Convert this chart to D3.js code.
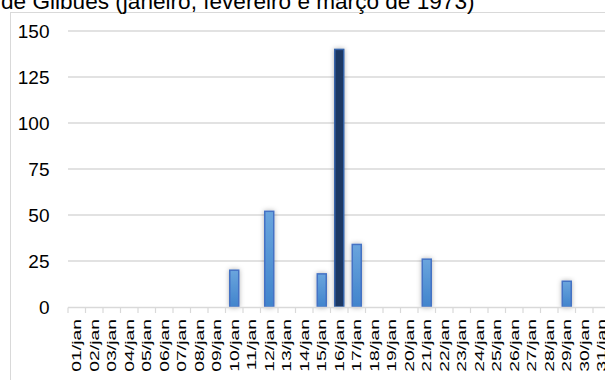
<!DOCTYPE html>
<html>
<head>
<meta charset="utf-8">
<script src="https://cdn.jsdelivr.net/npm/d3@7"></script>
<style>
  body { margin: 0; background: #fff; }
  svg { display: block; font-family: Arial, "Liberation Sans", sans-serif; }
</style>
</head>
<body>
<div id="chart"></div>
<script>
// chart data
var titleText = "de Gilbués (janeiro, fevereiro e março de 1973)";
var days = [];
for (var d = 1; d <= 31; d++) days.push((d < 10 ? "0" + d : "" + d) + "/jan");
var rainDays = ["10/jan", "12/jan", "15/jan", "16/jan", "17/jan", "21/jan", "29/jan"];
var rainValues = [20, 52, 18, 140, 34, 26, 14];
var highlightDay = "16/jan";
var yTicks = [0, 25, 50, 75, 100, 125, 150];

var w = 605, h = 380;
var bandW = 17.5;

var values = days.map(function (day) {
  var i = rainDays.indexOf(day);
  return {day: day, value: i < 0 ? 0 : rainValues[i]};
});

var svg = d3.select("#chart")
  .append("svg")
  .attr("width", w)
  .attr("height", h);

var defs = svg.append("defs");

var grad = defs.append("linearGradient")
  .attr("id", "barGrad")
  .attr("x1", 0).attr("y1", 0).attr("x2", 0).attr("y2", 1);
grad.append("stop").attr("offset", "0%").attr("stop-color", "#6aa5dd");
grad.append("stop").attr("offset", "100%").attr("stop-color", "#4184cc");

var shadow = defs.append("filter")
  .attr("id", "shadow")
  .attr("x", "-100%").attr("y", "-20%")
  .attr("width", "300%").attr("height", "140%");
shadow.append("feDropShadow")
  .attr("dx", 0).attr("dy", 0)
  .attr("stdDeviation", 2.5)
  .attr("flood-color", "#000")
  .attr("flood-opacity", 0.3);

// outer frame (clipped by window on right / bottom)
svg.append("rect")
  .attr("x", 10.5).attr("y", 12.5)
  .attr("width", 700).attr("height", 500)
  .attr("fill", "none")
  .attr("stroke", "#d9d9d9")
  .attr("stroke-width", 1);

// title, cut off at the top like the original
svg.append("text")
  .attr("x", 1)
  .attr("y", 8.5)
  .attr("font-size", 22.6)
  .attr("fill", "#000")
  .text(titleText);

var x = d3.scaleBand()
  .domain(days)
  .range([68, 68 + bandW * days.length])
  .paddingInner(0.43)
  .paddingOuter(0.215);

var y = d3.scaleLinear()
  .domain([0, 150])
  .range([307, 31]);

// gridlines
svg.append("g")
  .selectAll("line")
  .data(yTicks.slice(1))
  .enter().append("line")
  .attr("x1", 68).attr("x2", 620)
  .attr("y1", function (d) { return y(d); })
  .attr("y2", function (d) { return y(d); })
  .attr("stroke", "#d9d9d9")
  .attr("stroke-width", 1.5);

// y labels
svg.append("g")
  .selectAll("text")
  .data(yTicks)
  .enter().append("text")
  .attr("x", 49.5)
  .attr("y", function (d) { return y(d); })
  .attr("dy", "0.35em")
  .attr("text-anchor", "end")
  .attr("font-size", 19)
  .attr("fill", "#000")
  .text(function (d) { return d; });

// bars
svg.append("g")
  .selectAll("rect")
  .data(values.filter(function (d) { return d.value > 0; }))
  .enter().append("rect")
  .attr("x", function (d) { return x(d.day) + 0.5; })
  .attr("y", function (d) { return y(d.value); })
  .attr("width", x.bandwidth() - 1)
  .attr("height", function (d) { return y(0) - y(d.value); })
  .attr("fill", function (d) { return d.day == highlightDay ? "#1f3864" : "url(#barGrad)"; })
  .attr("stroke", function (d) { return d.day == highlightDay ? "#3563a8" : "#4472c4"; })
  .attr("stroke-width", 1.5)
  .attr("filter", "url(#shadow)");

// x axis line and ticks
var axis = svg.append("g");
axis.append("line")
  .attr("x1", 68).attr("x2", 620)
  .attr("y1", 307.5).attr("y2", 307.5)
  .attr("stroke", "#d9d9d9")
  .attr("stroke-width", 1.5);
axis.selectAll("line.tick")
  .data(d3.range(days.length + 1))
  .enter().append("line")
  .attr("class", "tick")
  .attr("x1", function (i) { return 68 + i * bandW; })
  .attr("x2", function (i) { return 68 + i * bandW; })
  .attr("y1", 307.5).attr("y2", 313)
  .attr("stroke", "#d9d9d9")
  .attr("stroke-width", 1.2);

// x labels, rotated and stretched like the original
axis.selectAll("text")
  .data(days)
  .enter().append("text")
  .attr("transform", function (d) {
    var cx = x(d) + x.bandwidth() / 2;
    return "translate(" + cx + ",319) rotate(-90) scale(1.55,1)";
  })
  .attr("dy", "0.36em")
  .attr("text-anchor", "end")
  .attr("font-size", 12.5)
  .attr("fill", "#000")
  .text(function (d) { return d; });
</script>
</body>
</html>
